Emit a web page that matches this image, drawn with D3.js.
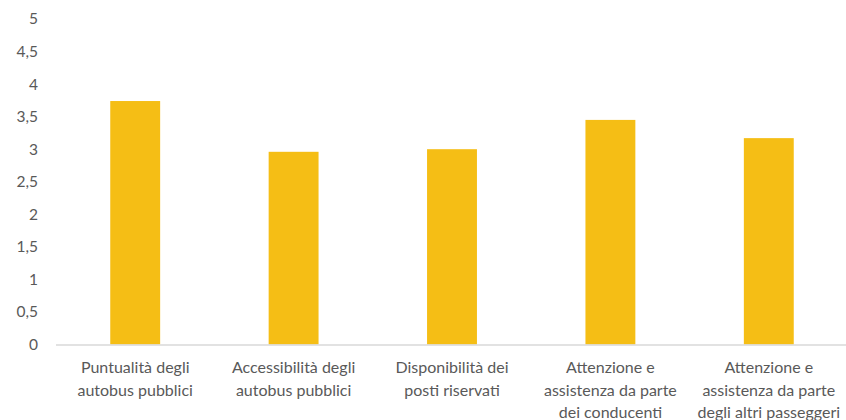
<!DOCTYPE html>
<html>
<head>
<meta charset="utf-8">
<script src="https://cdn.jsdelivr.net/npm/d3@7"></script>
<style>
  body { margin: 0; background: #fff; }
  text { font-family: Lato, "Open Sans", sans-serif; fill: #595959; }
</style>
</head>
<body>
<script>
var categories = [
  "Puntualità degli\nautobus pubblici",
  "Accessibilità degli\nautobus pubblici",
  "Disponibilità dei\nposti riservati",
  "Attenzione e\nassistenza da parte\ndei conducenti",
  "Attenzione e\nassistenza da parte\ndegli altri passeggeri"
];
var values = [3.74, 2.96, 3.0, 3.45, 3.17];
var yTicks = [0, 0.5, 1, 1.5, 2, 2.5, 3, 3.5, 4, 4.5, 5];

var width = 846, height = 420;

var svg = d3.select("body").append("svg")
    .attr("width", width)
    .attr("height", height);

var x = d3.scaleBand()
    .domain(categories)
    .range([56, 848])
    .paddingInner(0.685)
    .paddingOuter(0.3425);

var y = d3.scaleLinear()
    .domain([0, 5])
    .range([344.5, 19]);

var fmt = function(d) { return String(d).replace(".", ","); };

// y labels
var yAxis = svg.append("g")
    .attr("transform", "translate(43,0)")
    .call(d3.axisLeft(y).tickValues(yTicks).tickFormat(fmt).tickSize(0).tickPadding(5));
yAxis.select(".domain").remove();
yAxis.selectAll("text")
    .style("font-size", "15.5px")
    .attr("fill", "#595959");

// bars
svg.selectAll("rect.bar")
    .data(values)
    .enter()
    .append("rect")
    .attr("class", "bar")
    .attr("x", function(d, i) { return x(categories[i]); })
    .attr("y", function(d) { return y(d); })
    .attr("width", x.bandwidth())
    .attr("height", function(d) { return y(0) - y(d); })
    .style("fill", "#F5BE15");

// x axis line
svg.append("line")
    .attr("x1", 56).attr("x2", 846)
    .attr("y1", y(0) + 0.5).attr("y2", y(0) + 0.5)
    .style("stroke", "#D9D9D9")
    .style("stroke-width", 1.3);

// category labels
var labels = svg.selectAll("text.cat")
    .data(categories)
    .enter()
    .append("text")
    .attr("class", "cat")
    .attr("text-anchor", "middle")
    .style("font-size", "16px")
    .attr("transform", function(d) { return "translate(" + (x(d) + x.bandwidth() / 2) + ",373)"; });

labels.selectAll("tspan")
    .data(function(d) { return d.split("\n"); })
    .enter()
    .append("tspan")
    .attr("x", 0)
    .attr("dy", function(d, i) { return i === 0 ? 0 : 22.5; })
    .text(function(d) { return d; });
</script>
</body>
</html>
